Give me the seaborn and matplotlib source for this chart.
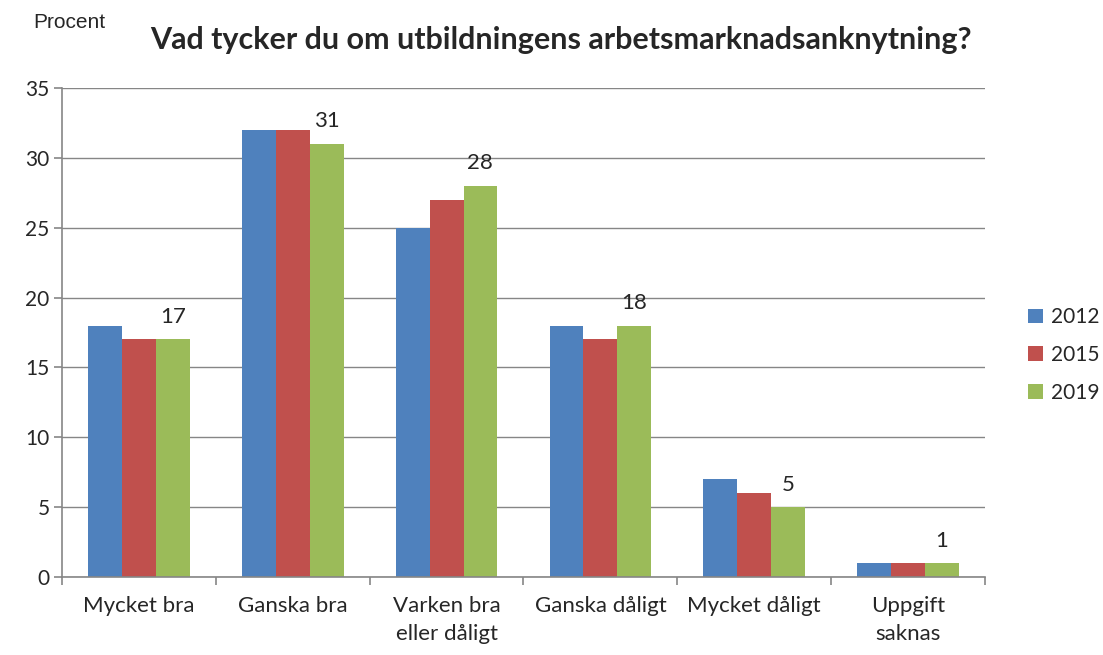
import numpy as np
import pandas as pd
import matplotlib.pyplot as plt
import seaborn as sns

categories = ['Mycket bra', 'Ganska bra', 'Varken bra\neller dåligt', 'Ganska dåligt', 'Mycket dåligt', 'Uppgift\nsaknas']
years = ['2012', '2015', '2019']
values_2012 = [18, 32, 25, 18, 7, 1]
values_2015 = [17, 32, 27, 17, 6, 1]
values_2019 = [17, 31, 28, 18, 5, 1]
colors = ['#4F81BD', '#C0504D', '#9BBB59']

df = pd.DataFrame({
    'Kategori': categories * 3,
    'År': [y for y in years for _ in categories],
    'Procent': values_2012 + values_2015 + values_2019,
})

sns.set_style('white')
plt.rcParams['font.family'] = ['Lato', 'DejaVu Sans']

fig = plt.figure(figsize=(11.03, 6.55), dpi=100)
ax = fig.add_axes([62 / 1103, 1 - 577 / 655, (985 - 62) / 1103, (577 - 88) / 655])

sns.barplot(data=df, x='Kategori', y='Procent', hue='År', palette=colors,
            width=0.66, saturation=1, ax=ax, legend=True, edgecolor='none', linewidth=0)

# labels only on the 2019 series
ax.bar_label(ax.containers[2], labels=[str(v) for v in values_2019], padding=9, fontsize=16)

ax.set_ylim(0, 35)
ax.set_yticks(range(0, 36, 5))
ax.set_xlim(-0.5, len(categories) - 0.5)
ax.yaxis.grid(True, color='#868686', linewidth=1)
ax.set_axisbelow(True)
ax.set_xlabel('')
ax.set_ylabel('')

for s in ['top', 'right']:
    ax.spines[s].set_visible(False)
for s in ['left', 'bottom']:
    ax.spines[s].set_color('#868686')
    ax.spines[s].set_linewidth(1.2)

# category ticks between groups
ax.set_xticks(np.arange(len(categories)))
ax.set_xticklabels(categories, fontsize=16, linespacing=1.45)
ax.tick_params(axis='x', length=0, pad=14)
ax.set_xticks(np.arange(-0.5, len(categories)), minor=True)
ax.tick_params(axis='x', which='minor', length=6, color='#868686', width=1.2, direction='out', bottom=True)
ax.tick_params(axis='y', length=6, color='#868686', width=1.2, direction='out', labelsize=15, pad=3, left=True)

leg = ax.legend(loc='center left', bbox_to_anchor=(1.0466, 0.454), frameon=False,
                fontsize=15, handlelength=0.7, handleheight=0.7, labelspacing=0.85,
                handletextpad=0.4, borderaxespad=0, borderpad=0)

fig.text(33 / 1103, 1 - 22 / 655, 'Procent', fontsize=15, family=['Liberation Sans', 'DejaVu Sans'], va='center')
fig.text(561 / 1103, 1 - 40 / 655, 'Vad tycker du om utbildningens arbetsmarknadsanknytning?',
         fontsize=22, fontweight='bold', ha='center', va='center')

fig.savefig('out.png', dpi=100)
